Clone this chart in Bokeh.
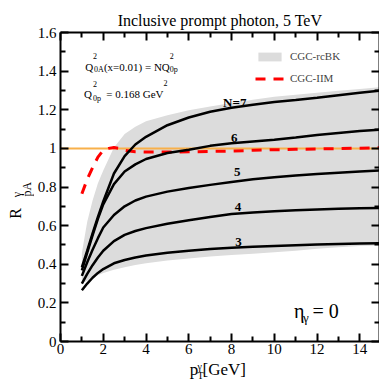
import math
from bokeh.plotting import figure
from bokeh.layouts import column, row
from bokeh.models import (Range1d, LinearAxis, FixedTicker, Label, Legend, LegendItem,
                          ColumnDataSource)
from bokeh.core.properties import value
from bokeh.embed import file_html
from bokeh.resources import INLINE

# ---------------- data ----------------
pt = [1.0, 1.25, 1.5, 1.75, 2.0, 2.5, 3.0, 3.5, 4.0, 5.0, 6.0, 7.0, 8.0,
      9.0, 10.0, 11.0, 12.0, 13.0, 14.0, 15.0]

r_n3 = [0.265, 0.30, 0.33, 0.355, 0.375, 0.405, 0.422, 0.435, 0.445, 0.46, 0.47,
        0.479, 0.486, 0.491, 0.495, 0.499, 0.502, 0.505, 0.507, 0.509]
r_n4 = [0.30, 0.35, 0.395, 0.435, 0.47, 0.52, 0.552, 0.572, 0.587, 0.61, 0.628,
        0.645, 0.66, 0.668, 0.674, 0.679, 0.683, 0.687, 0.69, 0.692]
r_n5 = [0.34, 0.41, 0.475, 0.535, 0.59, 0.655, 0.70, 0.73, 0.75, 0.776, 0.795,
        0.811, 0.826, 0.84, 0.851, 0.86, 0.867, 0.874, 0.88, 0.886]
r_n6 = [0.368, 0.46, 0.55, 0.635, 0.71, 0.815, 0.88, 0.917, 0.945, 0.976, 0.993,
        1.013, 1.027, 1.036, 1.045, 1.056, 1.069, 1.08, 1.09, 1.097]
r_n7 = [0.385, 0.47, 0.56, 0.645, 0.725, 0.87, 0.96, 1.02, 1.06, 1.12, 1.16,
        1.19, 1.21, 1.226, 1.24, 1.25, 1.262, 1.275, 1.288, 1.30]

band_hi = [0.46, 0.62, 0.73, 0.82, 0.885, 1.005, 1.075, 1.112, 1.14, 1.172, 1.198,
           1.217, 1.235, 1.252, 1.267, 1.278, 1.288, 1.298, 1.308, 1.318]
band_lo = [0.30, 0.315, 0.33, 0.343, 0.355, 0.372, 0.385, 0.396, 0.405, 0.42, 0.43,
           0.44, 0.448, 0.455, 0.462, 0.47, 0.48, 0.488, 0.494, 0.498]

pt_iim = [1.0, 1.25, 1.5, 1.75, 2.0, 2.25, 2.5, 2.75, 3.0, 3.5, 4.0, 5.0, 6.0,
          7.0, 8.0, 9.0, 10.0, 11.0, 12.0, 13.0, 14.0, 15.0]
r_iim = [0.765, 0.84, 0.90, 0.955, 0.99, 1.0, 1.004, 1.0, 0.99, 0.982, 0.981,
         0.981, 0.982, 0.984, 0.986, 0.99, 0.993, 0.995, 0.997, 0.999, 1.001, 1.003]

ref_x = [0.0, 15.0]
ref_y = [1.0, 1.0]

x_ticks = [0, 2, 4, 6, 8, 10, 12, 14]
x_minor = [1, 3, 5, 7, 9, 11, 13]
y_ticks = [0, 0.2, 0.4, 0.6, 0.8, 1.0, 1.2, 1.4, 1.6]
y_minor = [0.1, 0.3, 0.5, 0.7, 0.9, 1.1, 1.3, 1.5]
y_labels = ["0", "0.2", "0.4", "0.6", "0.8", "1", "1.2", "1.4", "1.6"]

curve_labels = ["N=7", "6", "5", "4", "3"]
curve_label_x = [8.15, 8.13, 8.27, 8.30, 8.33]
curve_label_y = [1.235, 1.054, 0.877, 0.695, 0.516]

SERIF = "'Liberation Serif', 'Times New Roman', serif"

# ---------------- page geometry ----------------
W = 379
YLAB_W = 34
MID_H = 360
XLAB_H = 382 - MID_H


def blank_fig(w, h):
    f = figure(width=w, height=h, x_range=Range1d(0, w), y_range=Range1d(0, h),
               output_backend="svg", toolbar_location=None, min_border=0,
               x_axis_type=None, y_axis_type=None)
    f.title.visible = False
    f.grid.visible = False
    f.outline_line_color = None
    f.background_fill_color = "white"
    f.border_fill_color = "white"
    return f


def ptxt(f, top, h, x, y_page, t, size, angle=0.0, align="left"):
    f.text(x=[x], y=[h - (y_page - top)], text=[t],
           text_font=value(SERIF), text_font_size=value(size),
           text_align=align, text_baseline="alphabetic", angle=angle,
           text_color="black")


# ---------------- main figure ----------------
p = figure(width=W - YLAB_W, height=MID_H, x_range=Range1d(0, 14.92),
           y_range=Range1d(0, 1.6), output_backend="svg", toolbar_location=None,
           min_border_left=24, min_border_right=0, min_border_top=32,
           min_border_bottom=19)
p.title.text = "Inclusive prompt photon, 5 TeV"
p.title.text_font = SERIF
p.title.text_font_size = "16px"
p.title.text_font_style = "normal"
p.title.text_color = "black"
p.title.align = "center"
p.title.standoff = 8
p.grid.visible = False
p.outline_line_color = None
p.background_fill_color = "white"
p.border_fill_color = "white"

xt = FixedTicker(ticks=x_ticks, minor_ticks=x_minor)
yt = FixedTicker(ticks=y_ticks, minor_ticks=y_minor)


def style_axis(ax, ticks, show_labels, standoff=4):
    ax.axis_line_width = 2
    ax.axis_line_color = "black"
    ax.major_tick_in = 8
    ax.major_tick_out = 0
    ax.minor_tick_in = 5
    ax.minor_tick_out = 0
    ax.major_tick_line_width = 2
    ax.minor_tick_line_width = 2
    ax.major_tick_line_color = "black"
    ax.minor_tick_line_color = "black"
    if show_labels:
        ax.major_label_text_font = SERIF
        ax.major_label_text_font_size = "15px"
        ax.major_label_text_color = "black"
        ax.major_label_standoff = standoff
    else:
        ax.major_label_overrides = {v: "" for v in ticks}
        ax.major_label_text_font_size = "1px"
        ax.major_label_standoff = 0


p.xaxis.ticker = xt
p.yaxis.ticker = yt
style_axis(p.xaxis[0], x_ticks, True, standoff=2)
style_axis(p.yaxis[0], y_ticks, True, standoff=4)
p.yaxis[0].major_label_overrides = {v: s for v, s in zip(y_ticks, y_labels)}

top_axis = LinearAxis(ticker=xt)
style_axis(top_axis, x_ticks, False)
p.add_layout(top_axis, "above")
right_axis = LinearAxis(ticker=yt)
style_axis(right_axis, y_ticks, False)
p.add_layout(right_axis, "right")

band_src = ColumnDataSource(dict(x=pt, lo=band_lo, hi=band_hi))
band = p.varea(x="x", y1="lo", y2="hi", source=band_src, fill_color="#dcdcdc")

p.line(ref_x, ref_y, line_color="#f8b04a", line_width=2)

iim = p.line(pt_iim, r_iim, line_color="#ff0000", line_width=3, line_dash="10 8")

for ys in (r_n3, r_n4, r_n5, r_n6, r_n7):
    p.line(pt, ys, line_color="black", line_width=2.5)

p.text(x=curve_label_x, y=curve_label_y, text=curve_labels,
       text_font=value(SERIF), text_font_size=value("13px"),
       text_font_style="bold", text_align="center", text_baseline="middle",
       text_color="black")

leg = Legend(items=[LegendItem(label="CGC-rcBK", renderers=[band]),
                    LegendItem(label="CGC-IIM", renderers=[iim])],
             location=(195, 257), orientation="vertical",
             glyph_width=29, glyph_height=11, label_standoff=6,
             label_text_font=SERIF, label_text_font_size="11px",
             label_height=11, spacing=10, padding=0, margin=0,
             background_fill_alpha=0, border_line_color=None)
p.add_layout(leg)


def lab(x, y, t, size):
    p.add_layout(Label(x=x, y=y, text=t, text_font=SERIF, text_font_size=size,
                       text_align="left", text_baseline="alphabetic",
                       text_color="black"))


# Q^2 annotations
lab(1.16, 1.4205, "Q", "11px")
lab(1.52, 1.476, "2", "8px")
lab(1.566, 1.4086, "0A", "8px")
lab(2.03, 1.4205, "(x=0.01) = NQ", "11px")
lab(5.11, 1.476, "2", "8px")
lab(5.11, 1.4086, "0p", "8px")

lab(1.10, 1.279, "Q", "11px")
lab(1.52, 1.331, "2", "8px")
lab(1.52, 1.26, "0p", "8px")
lab(2.14, 1.279, "= 0.168 GeV", "11px")
lab(4.82, 1.336, "2", "8px")

# eta label
lab(10.92, 0.1605, "\u03b7", "20px")
lab(11.34, 0.124, "\u03b3", "13px")
lab(11.79, 0.1605, "= 0", "20px")

# ---------------- y-label strip ----------------
yfig = blank_fig(YLAB_W, MID_H)
ptxt(yfig, 0, MID_H, 15.0, 217, "R", "16px", angle=math.pi / 2)
ptxt(yfig, 0, MID_H, 16.5, 192, "\u03b3", "12px", angle=math.pi / 2)
ptxt(yfig, 0, MID_H, 26.5, 191, "pA", "12px", angle=math.pi / 2)

# ---------------- x-label strip ----------------
xfig = blank_fig(W, XLAB_H)
ptxt(xfig, MID_H, XLAB_H, 189.3, 369, "p", "17px")
ptxt(xfig, MID_H, XLAB_H, 197.0, 365.5, "\u03b3", "10px")
ptxt(xfig, MID_H, XLAB_H, 197.0, 375, "T", "10px")
ptxt(xfig, MID_H, XLAB_H, 202.0, 369, "[GeV]", "17px")

layout = column(row(yfig, p, spacing=0), xfig, spacing=0)

open("out.html", "w").write(file_html(layout, INLINE))
